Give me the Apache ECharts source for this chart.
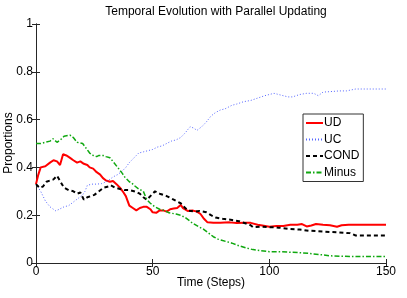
<!DOCTYPE html>
<html>
<head>
<meta charset="utf-8">
<script src="https://cdn.jsdelivr.net/npm/echarts@6/dist/echarts.min.js"></script>
<style>html,body{margin:0;padding:0;background:#fff;}#c{width:407px;height:298px;}</style>
</head>
<body>
<div id="c"></div>
<script>
const titleText = 'Temporal Evolution with Parallel Updating';
const xLabel = 'Time (Steps)';
const yLabel = 'Proportions';
const seriesNames = ['UD', 'UC', 'COND', 'Minus'];

const udSteps = [0,1,2,4,6,7.5,9,10.3,11.6,13,14.6,16,17.6,19,20.5,22,23,24.5,26,27.5,28.7,30,31.7,33,34.5,36,37.5,38.5,40,41.5,43,44.5,46,47.5,49,50,51.5,53,54.5,56,57.5,59,60.5,62,63,65,67,69,70.5,72,73.5,76,79,83,86,89,92,95,97,100,103,106,109,112,114,116,118,120,123,126,129,131,134,140,150];
const udValues = [0.33,0.37,0.40,0.405,0.42,0.43,0.425,0.41,0.455,0.45,0.44,0.43,0.42,0.425,0.415,0.41,0.40,0.395,0.38,0.37,0.355,0.345,0.34,0.343,0.33,0.315,0.295,0.28,0.24,0.23,0.22,0.23,0.235,0.235,0.225,0.212,0.21,0.22,0.22,0.215,0.225,0.228,0.23,0.243,0.23,0.218,0.22,0.215,0.205,0.185,0.17,0.168,0.168,0.17,0.167,0.168,0.168,0.16,0.157,0.152,0.155,0.155,0.16,0.16,0.163,0.153,0.157,0.163,0.16,0.158,0.152,0.158,0.16,0.16,0.16];

const ucSteps = [0,2,4,6,8.5,10,12,14,16,18,20,21,22,24,26,28,29,31,33,35,37,38.5,40,41,42.5,44,46,48,50,52,54,56,58,60,62,64,66,67.5,69,71,73,75,77,79,81,84,86,89,92,95,98,100,102,104,106,108,110,113,116,119,121,123,126,130,133,137,143,150];
const ucValues = [0.33,0.30,0.26,0.235,0.218,0.225,0.235,0.24,0.255,0.27,0.285,0.30,0.325,0.33,0.33,0.332,0.335,0.345,0.36,0.37,0.385,0.40,0.42,0.43,0.445,0.46,0.465,0.47,0.475,0.485,0.49,0.50,0.51,0.515,0.525,0.545,0.57,0.565,0.555,0.57,0.59,0.615,0.63,0.64,0.645,0.66,0.665,0.675,0.68,0.69,0.70,0.705,0.71,0.705,0.70,0.695,0.695,0.705,0.71,0.71,0.70,0.715,0.717,0.72,0.72,0.728,0.728,0.728];

const condSteps = [0,1.5,3,4.5,6,7.5,9,10.5,12,14,16,17.6,19,20.5,22,25,27,29,31,32,34,36,38,40,42,44.5,46,47.5,49,51,53,56,59,62,63.5,65,68,70,73,75,77,80,84,87,90,92,93,96,100,104,109,113,117,121,126,130,134.6,137,143,150];
const condValues = [0.33,0.315,0.32,0.34,0.345,0.35,0.365,0.34,0.315,0.305,0.30,0.29,0.295,0.265,0.275,0.285,0.30,0.315,0.32,0.325,0.315,0.31,0.305,0.305,0.30,0.29,0.275,0.265,0.28,0.30,0.29,0.28,0.265,0.25,0.235,0.22,0.215,0.218,0.212,0.20,0.19,0.185,0.18,0.175,0.165,0.158,0.15,0.152,0.15,0.148,0.142,0.14,0.135,0.133,0.13,0.128,0.125,0.115,0.115,0.115];

const minusSteps = [0,2,4,6,7.3,9,11,12,14.6,16,17.6,20,21.5,23,24.5,26,27,28.7,30,31.7,33,35,37,38,40,41,42,44,46,47.5,49,51,53,55,57,60,62,64,66,67,70,72,74,76,78,80,84,87,90,93,96,100,105,109,113,117,122,126,131,137,150];
const minusValues = [0.50,0.50,0.505,0.51,0.52,0.505,0.52,0.53,0.535,0.525,0.505,0.50,0.48,0.46,0.45,0.445,0.45,0.45,0.445,0.44,0.425,0.40,0.375,0.36,0.34,0.335,0.325,0.31,0.30,0.265,0.25,0.235,0.225,0.22,0.21,0.205,0.20,0.19,0.175,0.167,0.15,0.14,0.125,0.11,0.10,0.094,0.083,0.072,0.063,0.056,0.052,0.047,0.047,0.045,0.043,0.04,0.035,0.03,0.028,0.027,0.027];

const xTicks = [0, 50, 100, 150];
const yTicks = [0, 0.2, 0.4, 0.6, 0.8, 1];

function pairs(s, v) { return s.map((x, i) => [x, v[i]]); }

const FONT = 'Liberation Sans, Arial, Helvetica, sans-serif';
const axisCol = '#262626';
const tickCommon = { show: true, inside: true, length: 4, lineStyle: { color: axisCol, width: 1 } };

const chart = echarts.init(document.getElementById('c'), null, { renderer: 'canvas' });
chart.setOption({
  animation: false,
  backgroundColor: '#fff',
  title: {
    text: titleText, left: 211, top: 1, textAlign: 'center',
    textStyle: { fontFamily: FONT, fontSize: 12, fontWeight: 'normal', color: '#000' }
  },
  graphic: [
    { type: 'text', x: 211, y: 283, style: { text: xLabel, font: '12px ' + FONT, fill: '#000', align: 'center', verticalAlign: 'middle' } },
    { type: 'text', x: 9, y: 143, rotation: Math.PI / 2, style: { text: yLabel, font: '12px ' + FONT, fill: '#000', align: 'center', verticalAlign: 'middle' } }
  ],
  grid: { left: 36, right: 21, top: 24, bottom: 35, containLabel: false, outerBoundsMode: 'none' },
  legend: {
    orient: 'vertical', left: 303, top: 114,
    data: seriesNames,
    itemWidth: 17, itemHeight: 12, itemGap: 4.5,
    padding: [3, 4, 3, 2],
    borderColor: '#333', borderWidth: 1, borderRadius: 0,
    backgroundColor: '#fff',
    itemStyle: { opacity: 0, color: 'rgba(0,0,0,0)', borderWidth: 0 },
    textStyle: { fontFamily: FONT, fontSize: 12, color: '#000', padding: [0, 0, 0, -4] }
  },
  xAxis: [{
    type: 'value', min: xTicks[0], max: xTicks[xTicks.length - 1], interval: 50,
    axisLine: { show: true, lineStyle: { color: axisCol } },
    axisTick: tickCommon,
    axisLabel: { fontFamily: FONT, fontSize: 12, color: '#000', margin: 3 },
    splitLine: { show: false }
  }, {
    type: 'value', position: 'top', min: 0, max: 150, interval: 50,
    axisLine: { show: true, lineStyle: { color: axisCol } },
    axisTick: tickCommon, axisLabel: { show: false }, splitLine: { show: false }
  }],
  yAxis: [{
    type: 'value', min: yTicks[0], max: yTicks[yTicks.length - 1], interval: 0.2,
    axisLine: { show: true, lineStyle: { color: axisCol } },
    axisTick: tickCommon,
    axisLabel: { fontFamily: FONT, fontSize: 12, color: '#000', margin: 3 },
    splitLine: { show: false }
  }, {
    type: 'value', position: 'right', min: 0, max: 1, interval: 0.2,
    axisLine: { show: true, lineStyle: { color: axisCol } },
    axisTick: tickCommon, axisLabel: { show: false }, splitLine: { show: false }
  }],
  series: [
    { name: seriesNames[0], type: 'line', symbol: 'none', data: pairs(udSteps, udValues),
      lineStyle: { color: '#ff0000', width: 2, type: 'solid' }, itemStyle: { color: '#ff0000' } },
    { name: seriesNames[1], type: 'line', symbol: 'none', data: pairs(ucSteps, ucValues),
      lineStyle: { color: '#5566ff', width: 1, type: [1, 2] }, itemStyle: { color: '#5566ff' } },
    { name: seriesNames[2], type: 'line', symbol: 'none', data: pairs(condSteps, condValues),
      lineStyle: { color: '#000000', width: 2, type: [4, 3] }, itemStyle: { color: '#000000' } },
    { name: seriesNames[3], type: 'line', symbol: 'none', data: pairs(minusSteps, minusValues),
      lineStyle: { color: '#10a810', width: 1.5, type: [5, 2, 1.5, 2] }, itemStyle: { color: '#10a810' } }
  ]
});
</script>
</body>
</html>
